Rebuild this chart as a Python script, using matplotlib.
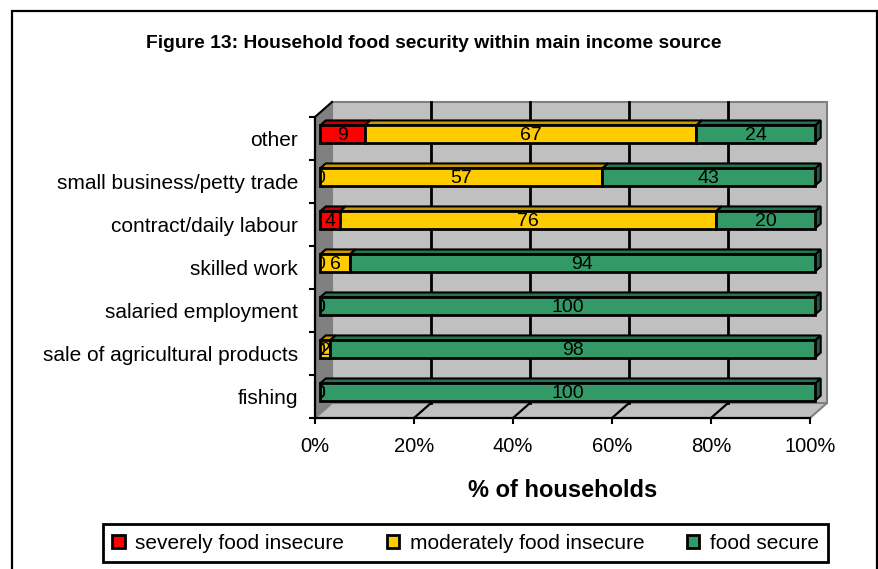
import matplotlib
matplotlib.use('Agg')
import matplotlib.pyplot as plt
from matplotlib.patches import Polygon, Rectangle, Patch
from matplotlib.transforms import Bbox, TransformedBbox
import numpy as np

categories = ['fishing', 'sale of agricultural products', 'salaried employment',
              'skilled work', 'contract/daily labour', 'small business/petty trade', 'other']
severe = [0, 0, 0, 0, 4, 0, 9]
moderate = [0, 2, 0, 6, 76, 57, 67]
secure = [100, 98, 100, 94, 20, 43, 24]
series_names = ['severely food insecure', 'moderately food insecure', 'food secure']
colors = ['#FF0000', '#FFCC00', '#339966']
top_colors = ['#C00000', '#C89A00', '#267350']
side_colors = ['#A00000', '#A07A00', '#1F5C40']
xticks = [0, 20, 40, 60, 80, 100]
xticklabels = ['0%', '20%', '40%', '60%', '80%', '100%']
title = 'Figure 13: Household food security within main income source'
xlabel = '% of households'

plt.rcParams['font.family'] = ['Liberation Sans', 'DejaVu Sans']
W, H = 879, 569
fig = plt.figure(figsize=(W / 100, H / 100), dpi=100)
ax = fig.add_axes([315 / W, 151 / H, 495 / W, 301 / H])
n = len(categories)
y0, y1 = -0.5, n - 0.5
ax.set_xlim(0, 100)
ax.set_ylim(y0, y1)
ax.patch.set_visible(False)

# depth vector (pixels) converted to data units
o = ax.transData.transform((0, 0))
dd = ax.transData.inverted().transform(o + np.array([17.0, 15.0]))
dx, dy = dd[0], dd[1]

# walls and floor
ax.add_patch(Polygon([(dx, y0 + dy), (100 + dx, y0 + dy), (100 + dx, y1 + dy), (dx, y1 + dy)],
                     closed=True, fc='#C0C0C0', ec='#808080', lw=1.5, zorder=0, clip_on=False))
ax.add_patch(Polygon([(0, y0), (dx, y0 + dy), (dx, y1 + dy), (0, y1)],
                     closed=True, fc='#808080', ec='#808080', lw=1, zorder=0.5, clip_on=False))
ax.add_patch(Polygon([(0, y0), (100, y0), (100 + dx, y0 + dy), (dx, y0 + dy)],
                     closed=True, fc='#C0C0C0', ec='#808080', lw=1.5, zorder=0.5, clip_on=False))
for xv in xticks[1:-1]:
    ax.plot([xv + dx, xv + dx], [y0 + dy, y1 + dy], color='black', lw=2, zorder=1, clip_on=False)
    ax.plot([xv, xv + dx], [y0, y0 + dy], color='black', lw=1.6, zorder=1, clip_on=False)
ax.plot([0, dx], [y1, y1 + dy], color='black', lw=1.5, zorder=3, clip_on=False)

# bars
f1, f2, h = 0.3, 0.63, 0.40
series = [severe, moderate, secure]
ypos = np.arange(n)
lefts = np.zeros(n)
clip_box = TransformedBbox(Bbox([[f1 * dx, y0 - 1], [100 + 2 * dx, y1 + 1]]), ax.transData)
for s, vals in enumerate(series):
    vals = np.array(vals, dtype=float)
    for i in range(n):
        w = vals[i]
        l = lefts[i]
        if w > 0:
            top = i + h / 2
            bot = i - h / 2
            r = l + w
            ax.add_patch(Polygon([(r + f1 * dx, bot + f1 * dy), (r + f2 * dx, bot + f2 * dy),
                                  (r + f2 * dx, top + f2 * dy), (r + f1 * dx, top + f1 * dy)],
                                 closed=True, fc=side_colors[s], ec='black', lw=1.5,
                                 zorder=3 + s * 0.01, clip_on=False))
            ax.add_patch(Polygon([(l + f1 * dx, top + f1 * dy), (r + f1 * dx, top + f1 * dy),
                                  (r + f2 * dx, top + f2 * dy), (l + f2 * dx, top + f2 * dy)],
                                 closed=True, fc=top_colors[s], ec='black', lw=1.5,
                                 zorder=3.5 + s * 0.01, clip_on=False))
    ax.barh(ypos + f1 * dy, vals, left=lefts + f1 * dx, height=h, color=colors[s],
            edgecolor='black', linewidth=[2 if v > 0 else 0 for v in vals], zorder=4,
            label=series_names[s], clip_on=False)
    for i in range(n):
        t = ax.text(lefts[i] + vals[i] / 2 + f1 * dx, i + f1 * dy - 0.04, f'{vals[i]:g}',
                    ha='center', va='center', fontsize=14, color='black', zorder=6)
        t.set_clip_path(None)
        t.set_clip_box(clip_box)
        t.set_clip_on(True)
    lefts = lefts + vals

# axes, ticks
for sp in ['top', 'right']:
    ax.spines[sp].set_visible(False)
for sp in ['left', 'bottom']:
    ax.spines[sp].set_linewidth(1.6)
    ax.spines[sp].set_color('black')
    ax.spines[sp].set_zorder(3)
ax.set_yticks(np.arange(y0, y1 + 0.01, 1.0))
ax.set_yticklabels([])
ax.set_yticks(ypos, minor=True)
ax.set_yticklabels(categories, minor=True, fontsize=15)
ax.tick_params(axis='y', which='major', direction='out', length=4.5, width=1.5)
ax.tick_params(axis='y', which='minor', length=0, pad=12)
ax.set_xticks(xticks)
ax.set_xticklabels(xticklabels, fontsize=14.5)
ax.tick_params(axis='x', direction='out', length=4, width=1.5, pad=10)
ax.set_xlabel(xlabel, fontsize=17, fontweight='bold', labelpad=16)

fig.text(434 / W, 1 - 44 / H, title, fontsize=13.9, fontweight='bold', ha='center', va='center')

handles = [Patch(facecolor=c, edgecolor='black', linewidth=2) for c in colors]
leg = fig.legend(handles, series_names, loc='lower left',
                 bbox_to_anchor=(103 / W, 7 / H, 725 / W, 40 / H), mode='expand', ncol=3,
                 fontsize=15, handlelength=0.6, handleheight=0.6, handletextpad=0.5,
                 frameon=True, fancybox=False, edgecolor='black', framealpha=1,
                 borderaxespad=0, borderpad=0.45, columnspacing=2.0)
leg.get_frame().set_linewidth(2)

fig.add_artist(Rectangle((12 / W, -0.05), (877 - 12) / W, (569 - 11) / H + 0.05,
                         transform=fig.transFigure, fill=False, ec='black', lw=1.6))

fig.savefig('out.png', dpi=100)
